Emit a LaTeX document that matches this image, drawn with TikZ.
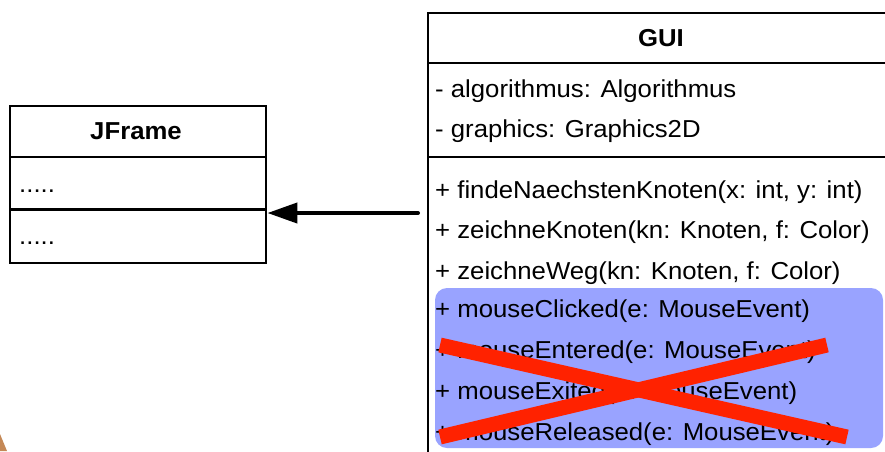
\documentclass[tikz,border=0pt]{standalone}
\usepackage{fontspec}
\setmainfont{Liberation Sans}[FakeStretch=1.05]
\usetikzlibrary{arrows.meta}
\definecolor{selblue}{RGB}{153,163,255}
\definecolor{xred}{RGB}{255,34,0}
\definecolor{blob}{RGB}{196,136,86}
\begin{document}
\begin{tikzpicture}[x=1pt,y=-1pt,
  txt/.style={anchor=base west, inner sep=0pt, font=\fontsize{24.5}{28}\selectfont},
  ttl/.style={anchor=base, inner sep=0pt, font=\fontsize{24.5}{28}\selectfont\bfseries},
  box/.style={draw, line width=2.4pt, inner sep=0pt},
  sep/.style={line width=2.4pt},
  cross/.style={xred, line width=15pt, line cap=butt},
]
\useasboundingbox (0,0) rectangle (885,451);
\clip (0,0) rectangle (885,451);
\fill[white] (0,0) rectangle (885,451);

% JFrame class
\node[box, minimum width=256pt, minimum height=157pt, anchor=north west] (jframe) at (9,105) {};
\draw[sep] (9,157) -- (265,157);
\draw[sep] (9,209.5) -- (265,209.5);
\node[ttl] (jtitle) at (136,139) {JFrame};
\node[txt] (jattr) at (19,192) {.....};
\node[txt] (jmeth) at (19,244) {.....};

% GUI class
\fill[selblue, rounded corners=12pt] (435,288) rectangle (883,448);
\node[box, minimum width=480pt, minimum height=500pt, anchor=north west] (gui) at (427,12) {};
\draw[sep] (427,63) -- (910,63);
\draw[sep] (427,157) -- (910,157);
\node[ttl] (gtitle) at (661,46) {GUI};
\node[txt] (a1) at (435,97) {- algorithmus: Algorithmus};
\node[txt] (a2) at (435,137) {- graphics: Graphics2D};
\node[txt] (m1) at (435,198) {+ findeNaechstenKnoten(x: int, y: int)};
\node[txt] (m2) at (435,238) {+ zeichneKnoten(kn: Knoten, f: Color)};
\node[txt] (m3) at (435,279) {+ zeichneWeg(kn: Knoten, f: Color)};
\node[txt] (m4) at (435,317) {+ mouseClicked(e: MouseEvent)};
\node[txt] (m5) at (435,358) {+ mouseEntered(e: MouseEvent)};
\node[txt] (m6) at (435,399) {+ mouseExited(e: MouseEvent)};
\node[txt] (m7) at (435,440) {+ mouseReleased(e: MouseEvent)};

% inheritance arrow
\coordinate (astart) at (418,213);
\draw[line width=4pt, line cap=round, -{Triangle[length=30pt,width=20pt]}] (astart) -- (jframe.east |- astart);

% red cross
\draw[cross] (440,345) -- (847,437);
\draw[cross] (440,437) -- (827,345);

% corner fragment
\fill[blob] (0,434) -- (7,451) -- (0,451) -- cycle;
\end{tikzpicture}
\end{document}
